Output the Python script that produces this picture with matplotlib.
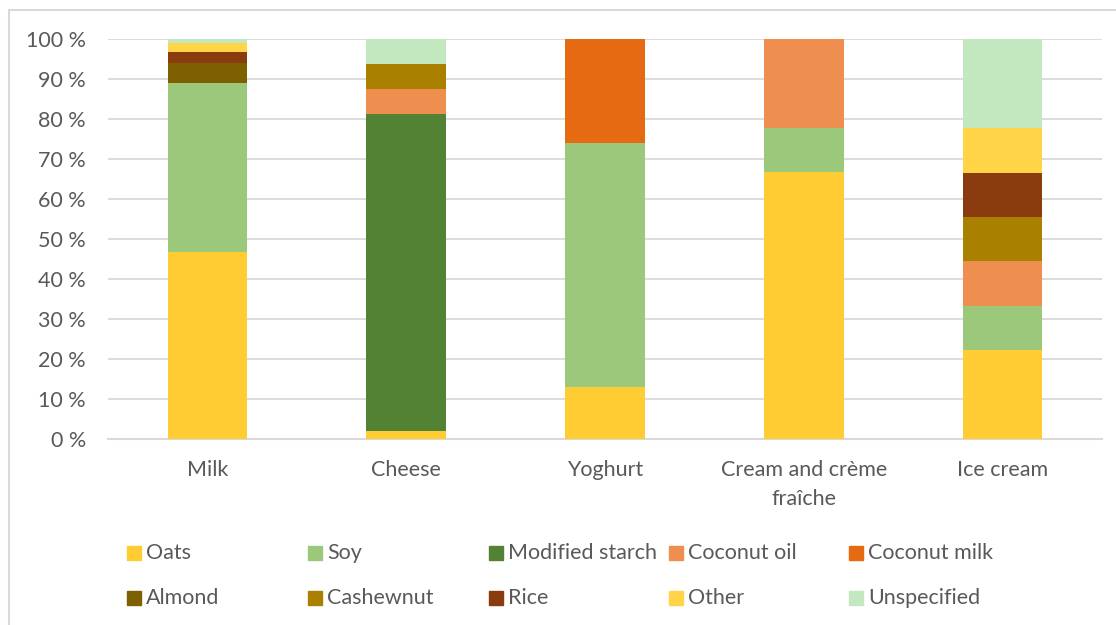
import numpy as np
import matplotlib.pyplot as plt
from matplotlib.patches import Rectangle

categories = ["Milk", "Cheese", "Yoghurt", "Cream and crème\nfraîche", "Ice cream"]
series = ["Oats", "Soy", "Modified starch", "Coconut oil", "Coconut milk",
          "Almond", "Cashewnut", "Rice", "Other", "Unspecified"]
colors = ["#FFCC33", "#9BC87B", "#548235", "#EF8F4F", "#E56A12",
          "#7F6000", "#A98000", "#8B3C0E", "#FFD447", "#C3E7BE"]

# percentage per category (Milk, Cheese, Yoghurt, Cream, Ice cream)
oats = [46.7, 2.1, 13.0, 66.7, 22.2]
soy = [42.2, 0, 60.9, 11.1, 11.1]
modified_starch = [0, 79.2, 0, 0, 0]
coconut_oil = [0, 6.25, 0, 22.2, 11.1]
coconut_milk = [0, 0, 26.1, 0, 0]
almond = [5.0, 0, 0, 0, 0]
cashewnut = [0, 6.25, 0, 0, 11.1]
rice = [2.8, 0, 0, 0, 11.1]
other = [2.2, 0, 0, 0, 11.1]
unspecified = [1.1, 6.25, 0, 0, 22.3]

values = [oats, soy, modified_starch, coconut_oil, coconut_milk,
          almond, cashewnut, rice, other, unspecified]

TXT = "#595959"
GRID = "#D9D9D9"
FS = 15.5
plt.rcParams['font.family'] = ['Lato', 'DejaVu Sans']

fig = plt.figure(figsize=(11.16, 6.25), dpi=100)
W, H = 1116, 625
ax = fig.add_axes([108 / W, 1 - 439 / H, (1102 - 108) / W, (439 - 39) / H])

x = np.arange(len(categories))
bottom = np.zeros(len(categories))
for name, vals, c in zip(series, values, colors):
    vals = np.array(vals, dtype=float)
    ax.bar(x, vals, 0.4, bottom=bottom, color=c, label=name, zorder=3)
    bottom += vals

ax.set_xlim(-0.5, len(categories) - 0.5)
ax.set_ylim(0, 100)
ax.set_yticks(np.arange(0, 101, 10))
ax.set_yticklabels([f"{v} %" for v in range(0, 101, 10)])
ax.set_xticks(x)
ax.set_xticklabels(categories, linespacing=1.55)
ax.tick_params(axis='both', length=0, labelsize=FS, colors=TXT)
ax.tick_params(axis='y', pad=16)
ax.tick_params(axis='x', pad=15)
ax.grid(axis='y', color=GRID, linewidth=1.3, zorder=0)
for s in ['top', 'right', 'left']:
    ax.spines[s].set_visible(False)
ax.spines['bottom'].set_color(GRID)
ax.spines['bottom'].set_linewidth(1.5)

# chart border
fig.patches.append(Rectangle((9 / W, -0.1), 1.2, 1 - 10 / H + 0.1, transform=fig.transFigure,
                             fill=False, edgecolor=GRID, linewidth=1.5))

# legend, two rows of five
col_x = [127, 308, 489, 669, 849]
row_y = [553, 598]
for i, (name, c) in enumerate(zip(series, colors)):
    px = col_x[i % 5]
    py = row_y[i // 5]
    fig.patches.append(Rectangle((px / W, 1 - (py + 7) / H), 14 / W, 14 / H,
                                 transform=fig.transFigure, color=c))
    fig.text((px + 19) / W, 1 - py / H, name, color=TXT, fontsize=FS,
             va='center', ha='left')

fig.savefig("out.png", dpi=100)
